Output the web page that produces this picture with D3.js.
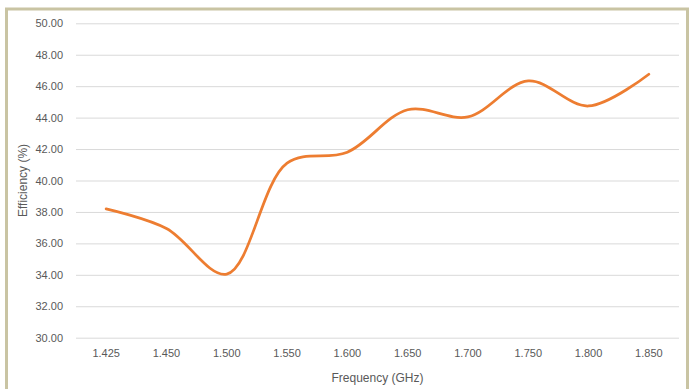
<!DOCTYPE html>
<html>
<head>
<meta charset="utf-8">
<script src="https://cdn.jsdelivr.net/npm/d3@7"></script>
<style>
  html, body { margin: 0; padding: 0; background: #fff; }
  svg { display: block; }
  text { font-family: "Liberation Sans", Arial, sans-serif; fill: #595959; }
</style>
</head>
<body>
<svg id="chart" width="691" height="389"></svg>
<script>
// Antenna efficiency across the band
const frequencies = ["1.425", "1.450", "1.500", "1.550", "1.600", "1.650", "1.700", "1.750", "1.800", "1.850"];
const efficiency = [38.2, 36.95, 34.05, 41.1, 41.8, 44.5, 44.05, 46.33, 44.74, 46.76];
const yTicks = [30, 32, 34, 36, 38, 40, 42, 44, 46, 48, 50];

const W = 691, H = 389;
const plot = { left: 76, right: 679, top: 23.3, bottom: 337.7 };

const svg = d3.select("#chart");

// chart frame
svg.append("rect")
  .attr("x", 6.5).attr("y", 9)
  .attr("width", 681).attr("height", 392)
  .attr("fill", "#fff")
  .attr("stroke", "#c9c4a3")
  .attr("stroke-width", 3);

const x = d3.scaleBand().domain(frequencies).range([plot.left, plot.right]);
const y = d3.scaleLinear().domain([30, 50]).range([plot.bottom, plot.top]);

// horizontal gridlines + value labels
const yAxis = d3.axisLeft(y)
  .tickValues(yTicks)
  .tickFormat(d3.format(".2f"))
  .tickSize(-(plot.right - plot.left))
  .tickPadding(13);

const gy = svg.append("g")
  .attr("transform", `translate(${plot.left},0)`)
  .call(yAxis);
gy.select(".domain").remove();
gy.selectAll(".tick line").attr("stroke", "#d9d9d9").attr("stroke-width", 1);
gy.selectAll(".tick text")
  .attr("font-size", 11)
  .style("font-family", "'Liberation Sans', Arial, sans-serif")
  .attr("fill", "#595959");

// category labels
const xAxis = d3.axisBottom(x).tickSize(0).tickPadding(12);
const gx = svg.append("g")
  .attr("transform", `translate(0,${plot.bottom})`)
  .call(xAxis);
gx.select(".domain").remove();
gx.selectAll(".tick text")
  .attr("font-size", 11)
  .style("font-family", "'Liberation Sans', Arial, sans-serif")
  .attr("fill", "#595959");

// smoothed efficiency line
const line = d3.line()
  .x((d, i) => x(frequencies[i]) + x.bandwidth() / 2)
  .y(d => y(d))
  .curve(d3.curveCatmullRom.alpha(0.5));

svg.append("path")
  .datum(efficiency)
  .attr("d", line)
  .attr("fill", "none")
  .attr("stroke", "#ed7d31")
  .attr("stroke-width", 2.75)
  .attr("stroke-linecap", "round")
  .attr("stroke-linejoin", "round");

// axis titles
svg.append("text")
  .attr("x", (plot.left + plot.right) / 2)
  .attr("y", 382)
  .attr("text-anchor", "middle")
  .attr("font-size", 12)
  .text("Frequency (GHz)");

svg.append("text")
  .attr("transform", `translate(27,${(plot.top + plot.bottom) / 2}) rotate(-90)`)
  .attr("text-anchor", "middle")
  .attr("font-size", 12)
  .text("Efficiency (%)");
</script>
</body>
</html>
